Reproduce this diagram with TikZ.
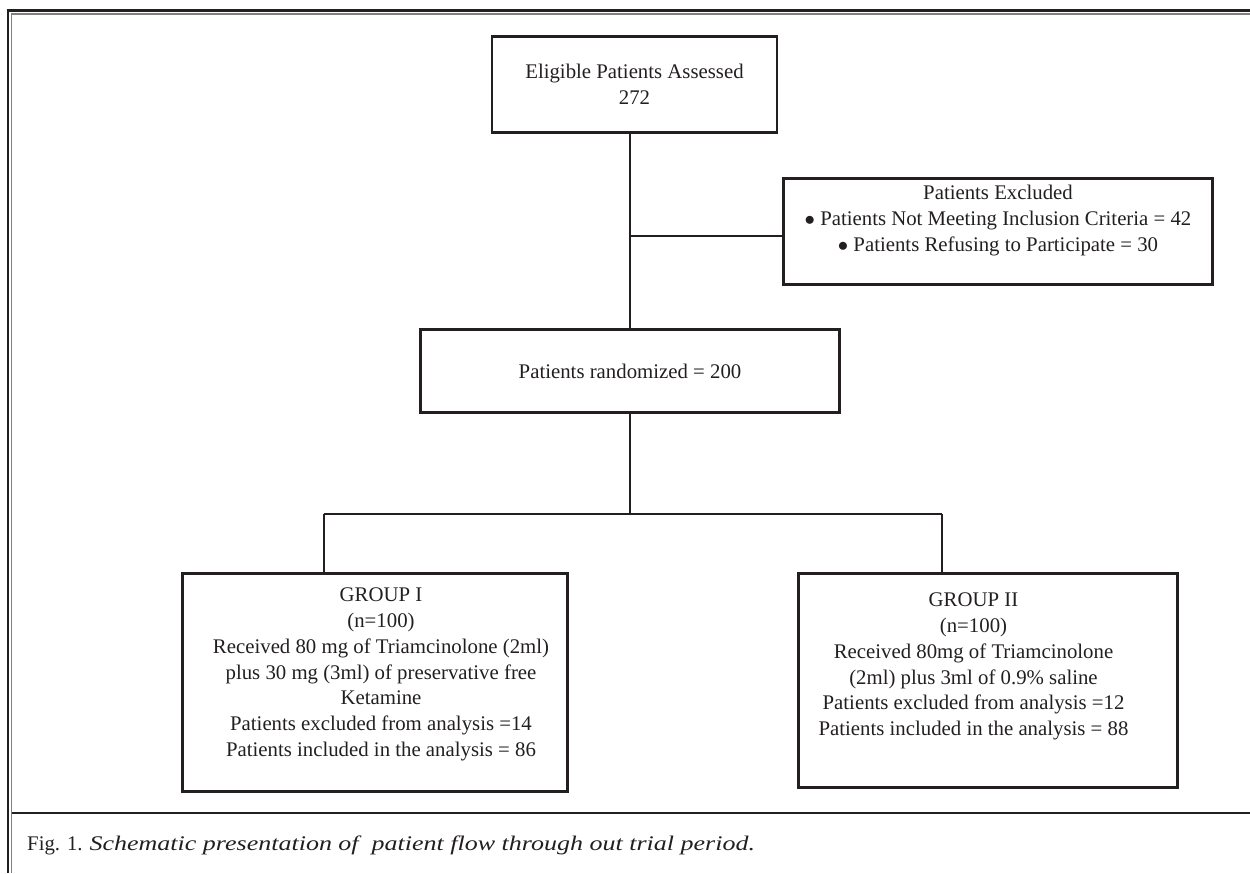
\documentclass[tikz,border=0pt]{standalone}
\usepackage{graphicx}
\usepackage{fontspec}
\setmainfont{Liberation Serif}
\definecolor{ink}{HTML}{231F20}
\begin{document}
\begin{tikzpicture}[x=1pt, y=-1pt,
  box/.style={draw=ink, line width=2.8pt, inner sep=0pt},
  txt/.style={align=center, inner sep=0pt, font=\fontsize{20.8}{25.7}\selectfont, text=ink},
  link/.style={draw=ink, line width=2.6pt}]
\useasboundingbox (0,0) rectangle (1250,873);
% frame and caption rule
\draw[ink, line width=2.5pt] (1250,10.7) -- (8.2,10.7) -- (8.2,873);
\draw[gray, line width=1.5pt] (1250,14.2) -- (11.7,14.2) -- (11.7,873);
\draw[ink, line width=2.5pt] (12.4,813) -- (1250,813);
% boxes
\node[box, txt, minimum width=285, minimum height=96] (eligible) at (634.5,84.5) {Eligible Patients Assessed\\272};
\node[box, minimum width=429, minimum height=106] (excluded) at (998,231.5) {};
\node[txt, anchor=north] (excludedtext) at (998,185) {Patients Excluded\\$\bullet$ Patients Not Meeting Inclusion Criteria = 42\\$\bullet$ Patients Refusing to Participate = 30};
\node[box, txt, minimum width=419, minimum height=83] (randomized) at (630,371) {Patients randomized = 200};
\node[box, minimum width=385, minimum height=218] (groupone) at (375,682.5) {};
\node[txt, anchor=north] (grouponetext) at (381,588) {GROUP I\\(n=100)\\Received 80 mg of Triamcinolone (2ml)\\plus 30 mg (3ml) of preservative free\\Ketamine\\Patients excluded from analysis =14\\Patients included in the analysis = 86};
\node[box, minimum width=379, minimum height=214] (grouptwo) at (988,680.5) {};
\node[txt, anchor=north] (grouptwotext) at (973.5,593) {GROUP II\\(n=100)\\Received 80mg of Triamcinolone\\(2ml) plus 3ml of 0.9\% saline\\Patients excluded from analysis =12\\Patients included in the analysis = 88};
% connectors
\coordinate (branch) at (630,236);
\coordinate (split) at (630,514);
\coordinate (lefttop) at (324,514);
\coordinate (righttop) at (942,514);
\draw[link] (eligible.south -| randomized.north) -- (randomized.north);
\draw[link] (branch) -- (branch -| excluded.west);
\draw[link] (randomized.south) -- (split);
\draw[link] (lefttop) -- (righttop);
\draw[link] (lefttop) -- (lefttop |- groupone.north);
\draw[link] (righttop) -- (righttop |- grouptwo.north);
% caption
\node[anchor=base west, inner sep=0pt, font=\fontsize{20.8}{25.7}\selectfont, text=ink] (caption) at (27,850) {Fig. 1. \scalebox{1.25}[1]{\itshape Schematic presentation of\ \ patient flow through out trial period.}};
\end{tikzpicture}
\end{document}
